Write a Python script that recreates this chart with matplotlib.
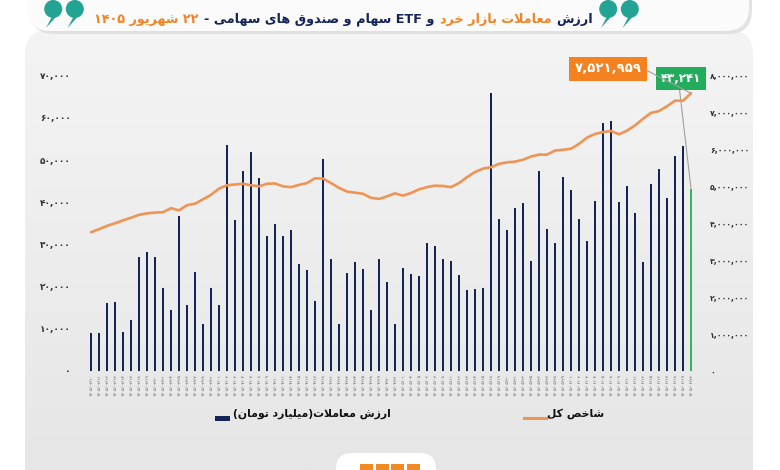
import re
import numpy as np
import matplotlib
matplotlib.use("Agg")
import matplotlib.pyplot as plt
from matplotlib.patches import FancyBboxPatch, Rectangle, Circle, Polygon
from matplotlib.lines import Line2D
from matplotlib.colors import LinearSegmentedColormap

plt.rcParams['font.family'] = ['DejaVu Sans']

# trading days shown on the x axis (month -> days), year 1405
year = "1405"
trade_days = {
    "03": [10, 11, 12, 13, 14, 17, 18, 19, 20, 21, 24, 25, 26, 27, 28, 31],
    "04": [1, 2, 3, 4, 7, 8, 9, 10, 11, 14, 15, 16, 17, 18, 21, 22, 23, 24,
           25, 28, 29, 30, 31],
    "05": [1, 4, 5, 6, 7, 8, 11, 12, 13, 14, 15, 18, 19, 20, 21, 22, 25, 26,
           27, 28, 29],
    "06": [1, 2, 3, 4, 5, 8, 9, 10, 11, 12, 15, 16, 17, 18, 19, 22],
}

# trade value (billion toman)
trade_value = [
    8900, 8900, 16000, 16400, 9200, 12200, 26900, 28100, 27000, 19700,
    14500, 36800, 15600, 23500, 11200, 19600, 15600, 53600, 35900, 47500,
    51900, 45800, 32000, 34800, 32000, 33400, 25400, 23900, 16600, 50300,
    26500, 11200, 23300, 25800, 24200, 14500, 26600, 21200, 11100, 24500,
    23100, 22400, 30300, 29600, 26600, 26100, 22700, 19200, 19500, 19700,
    65800, 36000, 33300, 38700, 39700, 26100, 47400, 33700, 30400, 45900,
    42800, 36000, 30900, 40400, 58700, 59300, 40000, 43800, 37500, 25800,
    44200, 47900, 40900, 50900, 53300, 43241,
]

# total index (million)
index_value = [
    3.76, 3.84, 3.93, 4.00, 4.08, 4.15, 4.23, 4.27, 4.29, 4.30,
    4.41, 4.35, 4.49, 4.53, 4.65, 4.77, 4.94, 5.03, 5.05, 5.07,
    5.03, 5.00, 5.07, 5.08, 5.00, 4.98, 5.04, 5.09, 5.22, 5.21,
    5.09, 4.96, 4.86, 4.83, 4.80, 4.69, 4.66, 4.73, 4.81, 4.75,
    4.82, 4.92, 4.98, 5.02, 5.01, 4.98, 5.09, 5.25, 5.39, 5.48,
    5.52, 5.61, 5.65, 5.67, 5.72, 5.81, 5.86, 5.86, 5.97, 5.99,
    6.02, 6.15, 6.32, 6.42, 6.47, 6.50, 6.41, 6.51, 6.65, 6.83,
    6.99, 7.04, 7.17, 7.32, 7.32, 7.521959,
]

left_ticks = [0, 10000, 20000, 30000, 40000, 50000, 60000, 70000]
right_ticks = [0, 1e6, 2e6, 3e6, 4e6, 5e6, 6e6, 7e6, 8e6]

title_parts = [
    ("ارزش", '#13245a'),
    ("معاملات بازار خرد", '#f58220'),
    ("و ETF سهام و صندوق های سهامی -", '#13245a'),
    ("۲۲ شهریور ۱۴۰۵", '#f58220'),
]
bar_label = "ارزش معاملات(میلیارد تومان)"
line_label = "شاخص کل"

NAVY = '#13245a'
ORANGE_LINE = '#ee9455'
ORANGE_BOX = '#f58220'
GREEN = '#22ad5c'
GREEN_BAR = '#35b56a'
TEAL = '#23a394'
COND = ['DejaVu Sans Condensed', 'DejaVu Sans']

# ---- minimal Persian shaping (presentation forms) + RTL ordering ----
FORMS = {  # isolated, final, initial, medial
    'ا': ('\uFE8D', '\uFE8E', None, None),
    'ب': ('\uFE8F', '\uFE90', '\uFE91', '\uFE92'),
    'ت': ('\uFE95', '\uFE96', '\uFE97', '\uFE98'),
    'خ': ('\uFEA5', '\uFEA6', '\uFEA7', '\uFEA8'),
    'د': ('\uFEA9', '\uFEAA', None, None),
    'ر': ('\uFEAD', '\uFEAE', None, None),
    'ز': ('\uFEAF', '\uFEB0', None, None),
    'س': ('\uFEB1', '\uFEB2', '\uFEB3', '\uFEB4'),
    'ش': ('\uFEB5', '\uFEB6', '\uFEB7', '\uFEB8'),
    'ص': ('\uFEB9', '\uFEBA', '\uFEBB', '\uFEBC'),
    'ع': ('\uFEC9', '\uFECA', '\uFECB', '\uFECC'),
    'ق': ('\uFED5', '\uFED6', '\uFED7', '\uFED8'),
    'ل': ('\uFEDD', '\uFEDE', '\uFEDF', '\uFEE0'),
    'م': ('\uFEE1', '\uFEE2', '\uFEE3', '\uFEE4'),
    'ن': ('\uFEE5', '\uFEE6', '\uFEE7', '\uFEE8'),
    'ه': ('\uFEE9', '\uFEEA', '\uFEEB', '\uFEEC'),
    'و': ('\uFEED', '\uFEEE', None, None),
    'ی': ('\uFBFC', '\uFBFD', '\uFBFE', '\uFBFF'),
    'ک': ('\uFB8E', '\uFB8F', '\uFB90', '\uFB91'),
}
LTR_RUN = re.compile(r'[A-Za-z0-9\u06F0-\u06F9]+(?:[,./:][A-Za-z0-9\u06F0-\u06F9]+)*')
MIRROR = str.maketrans('()', ')(')
FA_DIGITS = str.maketrans('0123456789', '۰۱۲۳۴۵۶۷۸۹')


def dual(c):
    return c in FORMS and FORMS[c][2] is not None


def shape(text):
    out = []
    i = 0
    while i < len(text):
        c = text[i]
        if c not in FORMS:
            out.append(c)
            i += 1
            continue
        join_prev = i > 0 and dual(text[i - 1])
        if c == 'ل' and i + 1 < len(text) and text[i + 1] == 'ا':
            out.append('\uFEFC' if join_prev else '\uFEFB')
            i += 2
            continue
        join_next = dual(c) and i + 1 < len(text) and text[i + 1] in FORMS
        iso, fin, ini, med = FORMS[c]
        if join_prev and join_next:
            out.append(med)
        elif join_prev:
            out.append(fin)
        elif join_next:
            out.append(ini)
        else:
            out.append(iso)
        i += 1
    return ''.join(out)


def fa(text):
    s = shape(text)
    parts, pos = [], 0
    for m in LTR_RUN.finditer(s):
        parts.append((False, s[pos:m.start()]))
        parts.append((True, m.group()))
        pos = m.end()
    parts.append((False, s[pos:]))
    return ''.join(p if ltr else p[::-1].translate(MIRROR)
                   for ltr, p in reversed(parts))


def fa_num(v):
    return f"{v:,.0f}".translate(FA_DIGITS)


def quote_mark(ax, cx, cy, r=9.0):
    # chunky "99" style quote: round head with a tail to the lower left
    for dx in (-r * 1.2, r * 1.2):
        ax.add_patch(Circle((cx + dx, cy), r, facecolor=TEAL, edgecolor='none'))
        ax.add_patch(Polygon([(cx + dx + r * 0.1, cy + r * 0.4),
                              (cx + dx + r, cy + r * 0.1),
                              (cx + dx - r * 0.8, cy + r * 2.1)],
                             closed=True, facecolor=TEAL, edgecolor='none'))


date_labels = [f"{year}/{m}/{d:02d}".translate(FA_DIGITS)
               for m, days in trade_days.items() for d in days]
x = np.arange(len(trade_value))

fig = plt.figure(figsize=(7.8, 4.7), dpi=100)
fig.patch.set_facecolor('white')

# background layer in image pixel coordinates
bg = fig.add_axes([0, 0, 1, 1], zorder=0)
bg.axis('off')
panel = FancyBboxPatch((25, 30), 728, 480,
                       boxstyle="round,pad=0,rounding_size=24",
                       facecolor='none', edgecolor='none')
bg.add_patch(panel)
grad = np.linspace(0, 1, 256).reshape(-1, 1)
cmap = LinearSegmentedColormap.from_list('panel', ['#f5f5f5', '#e6e6e6'])
im = bg.imshow(grad, extent=[0, 780, 470, 0], cmap=cmap, aspect='auto')
im.set_clip_path(panel)

# title banner
shadow = FancyBboxPatch((30, -40), 722, 74, boxstyle="round,pad=0,rounding_size=24",
                        facecolor='#d8d8d8', edgecolor='none', alpha=0.7)
banner = FancyBboxPatch((27, -40), 722, 71, boxstyle="round,pad=0,rounding_size=24",
                        facecolor='#fbfbfb', edgecolor='none')
bg.add_patch(shadow)
bg.add_patch(banner)

# footer tab with logo
bg.add_patch(FancyBboxPatch((336, 453), 100, 40, boxstyle="round,pad=0,rounding_size=16",
                            facecolor='white', edgecolor='none'))
for k in range(4):
    bg.add_patch(Rectangle((360 + k * 15.5, 464), 13, 10, facecolor='#f08a24',
                           edgecolor='none'))
quote_mark(bg, 619, 9)
quote_mark(bg, 64, 9)
bg.set_xlim(0, 780)
bg.set_ylim(470, 0)

# title: measure at a base size, then scale to fit between the quote marks
renderer = fig.canvas.get_renderer()
title_texts = [bg.text(0, 23, fa(txt), ha='right', va='baseline', fontsize=16,
                       fontweight='bold', color=col, family=COND)
               for txt, col in title_parts]
widths = [t.get_window_extent(renderer).width for t in title_texts]
gap = 5
scale = (593 - 93 - gap * (len(widths) - 1)) / sum(widths)
x_right = 593
for t, w in zip(title_texts, widths):
    t.set_fontsize(16 * scale)
    t.set_x(x_right)
    x_right -= w * scale + gap

# main chart
ax = fig.add_axes([79 / 780, 99 / 470, 624 / 780, 311 / 470], zorder=2)
ax.patch.set_visible(False)
colors = [NAVY] * (len(trade_value) - 1) + [GREEN_BAR]
ax.bar(x, trade_value, width=0.36, color=colors)
ax.set_xlim(-1.5, len(trade_value) + 0.5)
ax.set_ylim(0, 73700)
ax.set_yticks(left_ticks)
ax.set_yticklabels([fa_num(v) for v in left_ticks], fontweight='bold')
ax.set_xticks(x)
ax.set_xticklabels(date_labels, rotation=90, fontsize=3.2, color='#555555')
ax.tick_params(axis='x', length=0, pad=2)
ax.tick_params(axis='y', length=0, pad=6, labelsize=6.5, labelcolor='#333333')

ax2 = ax.twinx()
ax2.plot(x, np.array(index_value) * 1e6, color=ORANGE_LINE, lw=1.9,
         solid_capstyle='round')
ax2.set_ylim(0, 73700 / 70000 * 8e6)
ax2.set_yticks(right_ticks)
ax2.set_yticklabels([fa_num(v) for v in right_ticks], fontweight='bold')
ax2.tick_params(axis='y', length=0, pad=5, labelsize=5.6, labelcolor='#333333')
for a in (ax, ax2):
    for s in a.spines.values():
        s.set_visible(False)

# value callouts
last = len(trade_value) - 1
ax2.annotate(fa_num(index_value[-1] * 1e6), xy=(last, index_value[-1] * 1e6),
             xytext=(608, 69), textcoords=bg.transData, ha='center', va='center',
             fontsize=9.5, fontweight='bold', color='white',
             bbox=dict(boxstyle='square,pad=0.45', fc=ORANGE_BOX, ec='none'),
             arrowprops=dict(arrowstyle='-', color='#a0a0a0', lw=0.8,
                             relpos=(1, 0.6), shrinkA=0, shrinkB=0))
ax.annotate(fa_num(trade_value[-1]), xy=(last, trade_value[-1]),
            xytext=(681, 78.5), textcoords=bg.transData, ha='center', va='center',
            fontsize=8.5, fontweight='bold', color='white',
            bbox=dict(boxstyle='square,pad=0.4', fc=GREEN, ec='none'),
            arrowprops=dict(arrowstyle='-', color='#a0a0a0', lw=0.8,
                            relpos=(0.45, 0), shrinkA=0, shrinkB=0))

# legend
bg.add_patch(Rectangle((215, 416), 15, 5, facecolor=NAVY, edgecolor='none'))
bg.text(233, 414, fa(bar_label), ha='left', va='center', fontsize=7.8,
        fontweight='bold', color='#111111', family=COND)
bg.add_line(Line2D([524, 546], [417.5, 417.5], color=ORANGE_LINE, lw=2.2))
bg.text(547, 414, fa(line_label), ha='left', va='center', fontsize=7.8,
        fontweight='bold', color='#111111', family=COND)

fig.savefig('out.png', dpi=100)
